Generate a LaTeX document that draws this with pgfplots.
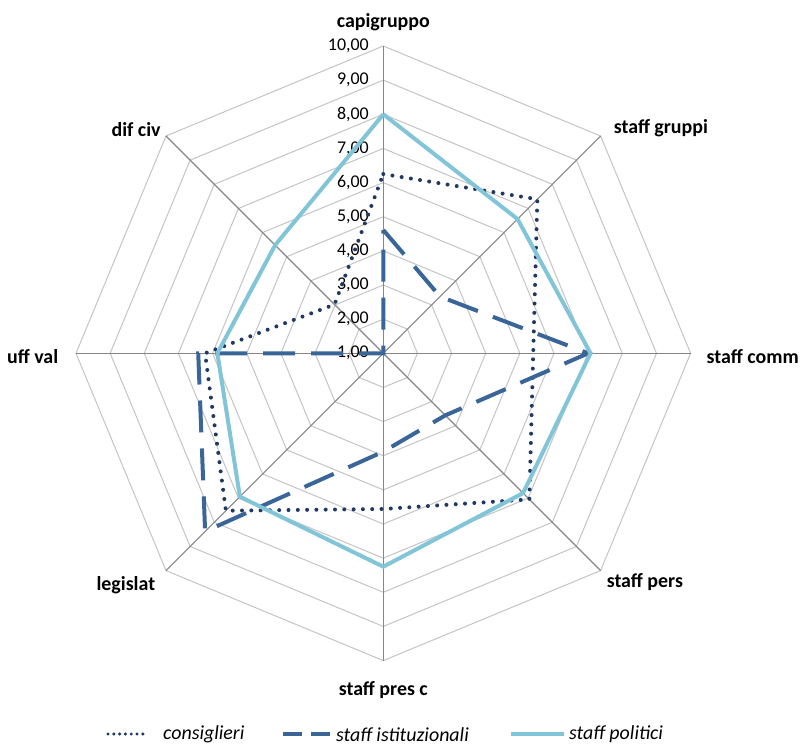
\documentclass[border=0pt]{standalone}
\usepackage{pgfplots}
\usepackage{pgfplotstable}
\pgfplotsset{compat=1.18}
\usepackage{fontspec}
\setmainfont{Carlito}

\definecolor{cons}{HTML}{1F3864}
\definecolor{ist}{HTML}{3A6599}
\definecolor{pol}{HTML}{82C5D9}
\definecolor{spoke}{HTML}{868686}
\definecolor{ring}{HTML}{C4C4C4}

% polar (angle, value) -> cartesian, with the value 1 at the centre
\pgfplotsset{/pgfplots/table/radar/.style={
  x expr={(\thisrow{v}-1)*cos(\thisrow{a})},
  y expr={(\thisrow{v}-1)*sin(\thisrow{a})}}}

% angle (deg), value; the first row is repeated to close each polygon
\pgfplotstableread{
a v
90 6.25
45 7.38
0 5.39
-45 7.05
-90 5.56
-135 7.52
180 6.22
135 3.02
90 6.25
}\consiglieri

\pgfplotstableread{
a v
90 4.61
45 3.35
0 7.00
-45 3.57
-90 3.88
-135 8.38
180 6.42
135 1.00
90 4.61
}\istituzionali

\pgfplotstableread{
a v
90 8.00
45 6.56
0 7.07
-45 6.79
-90 7.25
-135 6.94
180 5.86
135 5.48
90 8.00
}\politici

\begin{document}
\begin{tikzpicture}
\useasboundingbox (0,0) rectangle (803bp,747bp);
\begin{axis}[
  at={(383.3bp,393.7bp)}, anchor=center,
  scale only axis, width=614.6bp, height=614.6bp,
  xmin=-9, xmax=9, ymin=-9, ymax=9,
  hide axis, clip=false,
]
% octagonal rings
\pgfplotsinvokeforeach{1,...,9}{
  \draw[ring, line width=1bp]
    (axis cs:0,#1) -- (axis cs:{0.70711*#1},{0.70711*#1}) -- (axis cs:#1,0)
    -- (axis cs:{0.70711*#1},{-0.70711*#1}) -- (axis cs:0,-#1)
    -- (axis cs:{-0.70711*#1},{-0.70711*#1}) -- (axis cs:-#1,0)
    -- (axis cs:{-0.70711*#1},{0.70711*#1}) -- cycle;
}
% spokes
\draw[spoke, line width=1.2bp] (axis cs:0,-9) -- (axis cs:0,9);
\draw[spoke, line width=1.2bp] (axis cs:-9,0) -- (axis cs:9,0);
\draw[spoke, line width=1.2bp] (axis cs:-6.364,-6.364) -- (axis cs:6.364,6.364);
\draw[spoke, line width=1.2bp] (axis cs:-6.364,6.364) -- (axis cs:6.364,-6.364);

% scale labels
\begin{scope}[every node/.style={anchor=east, font=\fontsize{18}{18}\selectfont, inner sep=0pt}]
\node at (axis cs:-0.42,0) {1,00};
\node at (axis cs:-0.42,1) {2,00};
\node at (axis cs:-0.42,2) {3,00};
\node at (axis cs:-0.42,3) {4,00};
\node at (axis cs:-0.42,4) {5,00};
\node at (axis cs:-0.42,5) {6,00};
\node at (axis cs:-0.42,6) {7,00};
\node at (axis cs:-0.42,7) {8,00};
\node at (axis cs:-0.42,8) {9,00};
\node at (axis cs:-0.42,9) {10,00};
\end{scope}

\addplot[cons, line width=4bp, line cap=round, dash pattern=on 0bp off 9.3bp]
  table[radar] {\consiglieri};
\addplot[ist, line width=4bp, dash pattern=on 32bp off 16bp]
  table[radar] {\istituzionali};
\addplot[pol, line width=4bp, line join=miter]
  table[radar] {\politici};

% category labels
\begin{scope}[every node/.style={font=\bfseries\fontsize{20}{20}\selectfont}]
\node at (axis cs:0,9.71) {capigruppo};
\node at (axis cs:8.13,6.60) {staff gruppi};
\node at (axis cs:10.82,-0.11) {staff comm};
\node at (axis cs:7.66,-6.70) {staff pers};
\node at (axis cs:0,-9.86) {staff pres c};
\node at (axis cs:-7.54,-6.79) {legislat};
\node at (axis cs:-10.27,-0.11) {uff val};
\node at (axis cs:-7.24,6.55) {dif civ};
\end{scope}
\end{axis}

% legend
\begin{scope}[every node/.style={font=\itshape\fontsize{20}{20}\selectfont, anchor=west, inner sep=0pt}]
\draw[cons, line width=3.4bp, line cap=round, dash pattern=on 0bp off 5.8bp] (108bp,13bp) -- (144bp,13bp);
\node at (163bp,12.5bp) {consiglieri};
\draw[ist, line width=4bp, dash pattern=on 19bp off 9bp] (283bp,13bp) -- (331bp,13bp);
\node at (336bp,12.5bp) {staff istituzionali};
\draw[pol, line width=4bp] (511bp,13bp) -- (564bp,13bp);
\node at (569bp,12.5bp) {staff politici};
\end{scope}
\end{tikzpicture}
\end{document}
